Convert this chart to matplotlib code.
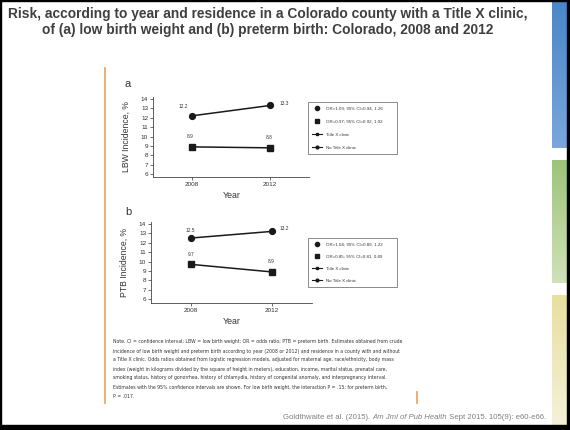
import numpy as np
import matplotlib
matplotlib.use("Agg")
import matplotlib.pyplot as plt
from matplotlib.lines import Line2D

W, H = 570, 430

years = [2008, 2012]
lbw_no_clinic = [12.2, 13.3]
lbw_clinic = [8.9, 8.8]
ptb_no_clinic = [12.5, 13.2]
ptb_clinic = [9.7, 8.9]

lbw_or_labels = ["OR=1.09; 95% CI=0.94, 1.26", "OR=0.97; 95% CI=0.92, 1.02"]
ptb_or_labels = ["OR=1.04; 95% CI=0.89, 1.22", "OR=0.85; 95% CI=0.81, 0.89"]
group_labels = ["Title X clinic", "No Title X clinic"]
y_ticks = [6, 7, 8, 9, 10, 11, 12, 13, 14]

title = ("Risk, according to year and residence in a Colorado county with a Title X clinic,\n"
         "of (a) low birth weight and (b) preterm birth: Colorado, 2008 and 2012")

note_lines = [
    "Note. CI = confidence interval; LBW = low birth weight; OR = odds ratio; PTB = preterm birth. Estimates obtained from crude",
    "incidence of low birth weight and preterm birth according to year (2008 or 2012) and residence in a county with and without",
    "a Title X clinic. Odds ratios obtained from logistic regression models, adjusted for maternal age, race/ethnicity, body mass",
    "index (weight in kilograms divided by the square of height in meters), education, income, marital status, prenatal care,",
    "smoking status, history of gonorrhea, history of chlamydia, history of congenital anomaly, and interpregnancy interval.",
    "Estimates with the 95% confidence intervals are shown. For low birth weight, the interaction P = .15; for preterm birth,",
    "P = .017.",
]

plt.rcParams["font.family"] = ["Liberation Sans", "DejaVu Sans"]

fig = plt.figure(figsize=(W / 100, H / 100), dpi=100)
fig.patch.set_facecolor("white")


def px_box(x0, y0, x1, y1):
    return [x0 / W, 1 - y1 / H, (x1 - x0) / W, (y1 - y0) / H]


# slide background layer: frame, side bars, image border
bg = fig.add_axes([0, 0, 1, 1])
bg.set_xlim(0, W)
bg.set_ylim(H, 0)
bg.axis("off")

bars = [((74, 134, 200), (122, 166, 220), 0, 148),
        ((157, 195, 122), (208, 226, 184), 160, 283),
        ((232, 223, 160), (245, 241, 216), 295, 425)]
for top, bottom, y0, y1 in bars:
    t = np.linspace(0, 1, 64)[:, None]
    grad = (np.array(top)[None, :] * (1 - t) + np.array(bottom)[None, :] * t) / 255
    bg.imshow(grad[:, None, :], extent=(552, 567, y1, y0), aspect="auto", zorder=1)

bg.add_patch(plt.Rectangle((0, 425), W, 5, color="black", zorder=3))
bg.add_patch(plt.Rectangle((567, 0), 3, H, color="black", zorder=3))
bg.add_patch(plt.Rectangle((0, 0), W, 1, color="black", zorder=3))
bg.add_patch(plt.Rectangle((0, 0), 1, H, color="black", zorder=3))

bg.plot([105, 105], [68, 403], color="#e9a865", lw=1.3, zorder=2)
bg.plot([417, 417], [392, 403], color="#e9a865", lw=1.3, zorder=2)

fig.text(268 / W, 1 - 22 / H, title, ha="center", va="center", fontsize=9.9,
         fontweight="bold", color="#3f3f3f", linespacing=1.12)

# note under the figure
for i, line in enumerate(note_lines):
    fig.text(113 / W, 1 - (342 + i * 9) / H, line, ha="left", va="center",
             fontsize=3.3, family="Liberation Sans Narrow", color="#333333")

# citation with italic journal name
cite = bg.text(283, 419, "Goldthwaite et al. (2015). ", fontsize=5.6, color="#808080",
               ha="left", va="baseline")
cite2 = bg.annotate("Am Jml of Pub Health", xy=(1, 0), xycoords=cite, fontsize=5.6,
                    color="#808080", style="italic", ha="left", va="bottom")
bg.annotate(" Sept 2015. 105(9): e60-e66.", xy=(1, 0), xycoords=cite2, fontsize=5.6,
            color="#808080", ha="left", va="bottom")


def draw_panel(box, ymin, no_clinic, clinic, ylabel, letter, letter_xy, year_y,
               label_offsets, or_labels, legend_box, spacing):
    ax = fig.add_axes(px_box(*box))
    ax.plot(years, no_clinic, color="#1a1a1a", lw=1.1, marker="o", ms=4.2, zorder=3)
    ax.plot(years, clinic, color="#1a1a1a", lw=1.1, marker="s", ms=4.6, zorder=3)
    ax.set_xlim(2006, 2014)
    ax.set_ylim(ymin, 14.2)
    ax.set_yticks(y_ticks)
    ax.set_xticks(years)
    for s in ["top", "right"]:
        ax.spines[s].set_visible(False)
    for s in ["left", "bottom"]:
        ax.spines[s].set_linewidth(0.6)
        ax.spines[s].set_color("#444444")
    ax.tick_params(length=2, width=0.5, pad=1.5, labelsize=4.6, colors="#333333")
    ax.set_facecolor("none")
    ax.set_ylabel(ylabel, fontsize=6.2, color="#333333", labelpad=7)

    series = list(no_clinic) + list(clinic)
    xs = years + years
    for (dx, dy), x, v in zip(label_offsets, xs, series):
        ax.annotate(f"{v:.1f}", (x, v), xytext=(dx, dy), textcoords="offset pixels",
                    ha="center", va="center", fontsize=3.4, color="#333333")

    fig.text(letter_xy[0] / W, 1 - letter_xy[1] / H, letter, fontsize=8,
             color="#333333", ha="center", va="center")
    fig.text(232 / W, 1 - year_y / H, "Year", fontsize=6.3, color="#333333",
             ha="center", va="center")

    handles = [
        Line2D([], [], ls="none", marker="o", ms=3, color="#1a1a1a"),
        Line2D([], [], ls="none", marker="s", ms=3, color="#1a1a1a"),
        Line2D([], [], lw=0.8, marker="s", ms=2, color="#1a1a1a"),
        Line2D([], [], lw=0.8, marker="o", ms=2, color="#1a1a1a"),
    ]
    x0, y0, x1, y1 = legend_box
    leg = fig.legend(handles, or_labels + group_labels, loc="upper left",
                     bbox_to_anchor=(x0 / W, 1 - y0 / H, (x1 - x0) / W, 0),
                     mode="expand", fontsize=3.2, frameon=True, fancybox=False,
                     edgecolor="#333333", handlelength=2.2, handletextpad=0.8,
                     labelspacing=spacing, borderpad=1.0, borderaxespad=0)
    leg.get_frame().set_linewidth(0.5)
    for t in leg.get_texts():
        t.set_color("#333333")
    return ax


draw_panel((153, 97, 309, 177), 5.7, lbw_no_clinic, lbw_clinic, "LBW Incidence, %", "a",
           (128, 84), 196,
           [(-9, 9), (14, 2), (-2, 10), (-1, 10)],
           lbw_or_labels, (308, 102, 397, 157), 2.0)

draw_panel((151, 222, 312, 303), 5.6, ptb_no_clinic, ptb_clinic, "PTB Incidence, %", "b",
           (128, 212), 322,
           [(-1, 8), (13, 3), (0, 10), (-1, 10)],
           ptb_or_labels, (308, 238, 397, 285), 1.8)

fig.savefig("out.png", dpi=100, facecolor="white")
